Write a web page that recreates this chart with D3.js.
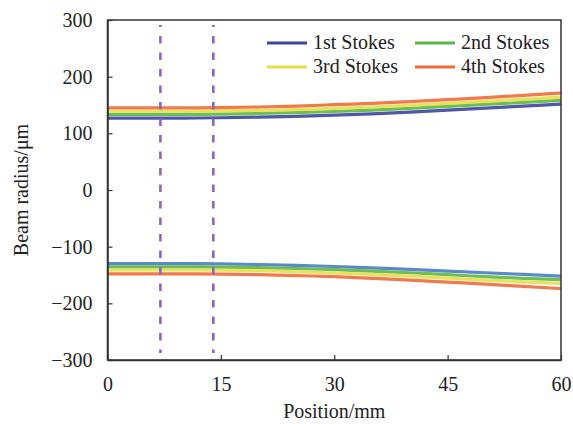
<!DOCTYPE html>
<html>
<head>
<meta charset="utf-8">
<script src="https://cdn.jsdelivr.net/npm/d3@7"></script>
<style>
  body { margin: 0; background: #fff; }
  text { font-family: "Liberation Serif", "Times New Roman", serif; fill: #222; }
</style>
</head>
<body>
<div id="chart"></div>
<script>
// positions along the beam (mm)
var positions = [0, 5, 10, 15, 20, 25, 30, 35, 40, 45, 50, 55, 60];

// beam radius (um), upper and lower envelopes for each Stokes order
var stokes1Upper = [127, 127, 127, 127.5, 128.5, 130, 132, 134.5, 137.5, 141, 144.5, 148, 151.5];
var stokes2Upper = [133.5, 133.5, 133.5, 134, 135, 136.5, 138.5, 141, 144, 147.5, 151, 154.5, 158];
var stokes3Upper = [139, 139, 139, 139.5, 140.5, 142, 144, 146.5, 149.5, 153, 156.5, 160, 164];
var stokes4Upper = [145, 145, 145, 145.5, 146.5, 148, 150.5, 153, 156, 159.5, 163, 167, 171];

var stokes1Lower = [-130, -130, -130, -130.5, -131.5, -133, -135, -137.5, -140, -143, -146, -149, -152];
var stokes2Lower = [-135.5, -135.5, -135.5, -136, -137, -138.5, -140.5, -143, -146, -149.5, -153, -156, -158];
var stokes3Lower = [-141, -141, -141, -141.5, -142.5, -144, -146.5, -149, -152, -155.5, -159, -162, -165];
var stokes4Lower = [-148, -148, -148, -148.5, -149.5, -151, -153, -156, -159, -162.5, -166, -170, -174];

var seriesNames = ["1st Stokes", "2nd Stokes", "3rd Stokes", "4th Stokes"];
var markerPositions = [7, 14]; // dashed vertical lines (mm)

var xTicks = [0, 15, 30, 45, 60];
var yTicks = [-300, -200, -100, 0, 100, 200, 300];

var width = 573, height = 425;
var margin = { top: 20, right: 12, bottom: 65, left: 107.5 };
var fontSize = "20px";

var svg = d3.select("#chart").append("svg")
    .attr("width", width)
    .attr("height", height);

var x = d3.scaleLinear().domain([0, 60]).range([margin.left, width - margin.right]);
var y = d3.scaleLinear().domain([-300, 300]).range([height - margin.bottom, margin.top]);

var colors = ["#3d45a0", "#5cb846", "#e6df4a", "#ee6a3a"];
var lowerColors = ["#4a7cc2", "#5cb846", "#e6df4a", "#ee6a3a"];

var upper = [stokes1Upper, stokes2Upper, stokes3Upper, stokes4Upper];
var lower = [stokes1Lower, stokes2Lower, stokes3Lower, stokes4Lower];

var line = d3.line()
    .x(function (d, i) { return x(positions[i]); })
    .y(function (d) { return y(d); })
    .curve(d3.curveMonotoneX);

var curves = svg.append("g");
upper.forEach(function (vals, k) {
    curves.append("path").datum(vals)
        .attr("d", line).attr("fill", "none")
        .attr("stroke", colors[k]).attr("stroke-width", 3.2).attr("stroke-opacity", 0.9);
});
lower.forEach(function (vals, k) {
    curves.append("path").datum(vals)
        .attr("d", line).attr("fill", "none")
        .attr("stroke", lowerColors[k]).attr("stroke-width", 3.2).attr("stroke-opacity", 0.9);
});

// dashed markers
svg.selectAll(".marker")
    .data(markerPositions)
    .enter().append("line")
    .attr("x1", function (d) { return x(d); })
    .attr("x2", function (d) { return x(d); })
    .attr("y1", y(300) + 5)
    .attr("y2", y(-300) - 7)
    .attr("stroke", "#8b66c2")
    .attr("stroke-width", 2.6)
    .attr("stroke-dasharray", "7.5,9")
    .attr("stroke-dashoffset", 5.5);

// frame
svg.append("rect")
    .attr("x", x(0)).attr("y", y(300))
    .attr("width", x(60) - x(0)).attr("height", y(-300) - y(300))
    .attr("fill", "none").attr("stroke", "#333").attr("stroke-width", 1.5);

// axes with inward ticks
var xAxis = svg.append("g")
    .attr("transform", "translate(0," + y(-300) + ")")
    .call(d3.axisBottom(x).tickValues(xTicks).tickSizeInner(-5).tickSizeOuter(0).tickPadding(17));
var yAxis = svg.append("g")
    .attr("transform", "translate(" + x(0) + ",0)")
    .call(d3.axisLeft(y).tickValues(yTicks).tickSizeInner(-5).tickSizeOuter(0).tickPadding(15)
        .tickFormat(function (d) { return d < 0 ? "\u2212" + Math.abs(d) : d; }));

[xAxis, yAxis].forEach(function (g) {
    g.select(".domain").attr("stroke", "#333").attr("stroke-width", 1.5);
    g.selectAll(".tick line").attr("stroke", "#333").attr("stroke-width", 1.2);
    g.selectAll(".tick text")
        .style("font-family", "'Liberation Serif', serif")
        .style("font-size", fontSize)
        .attr("fill", "#222");
});

// axis titles
svg.append("text")
    .attr("x", x(30)).attr("y", 418)
    .attr("text-anchor", "middle")
    .style("font-size", fontSize)
    .text("Position/mm");

svg.append("text")
    .attr("transform", "translate(28," + y(0) + ") rotate(-90)")
    .attr("text-anchor", "middle")
    .style("font-size", fontSize)
    .text("Beam radius/\u03bcm");

// legend
var legendItems = [
    { x: 267, y: 43, k: 0 },
    { x: 415, y: 43, k: 1 },
    { x: 267, y: 67, k: 2 },
    { x: 415, y: 67, k: 3 }
];
var legend = svg.append("g");
legendItems.forEach(function (it) {
    legend.append("line")
        .attr("x1", it.x).attr("x2", it.x + 40)
        .attr("y1", it.y).attr("y2", it.y)
        .attr("stroke", colors[it.k]).attr("stroke-width", 3.2);
    legend.append("text")
        .attr("x", it.x + 46).attr("y", it.y + 6)
        .style("font-size", fontSize)
        .text(seriesNames[it.k]);
});
</script>
</body>
</html>
